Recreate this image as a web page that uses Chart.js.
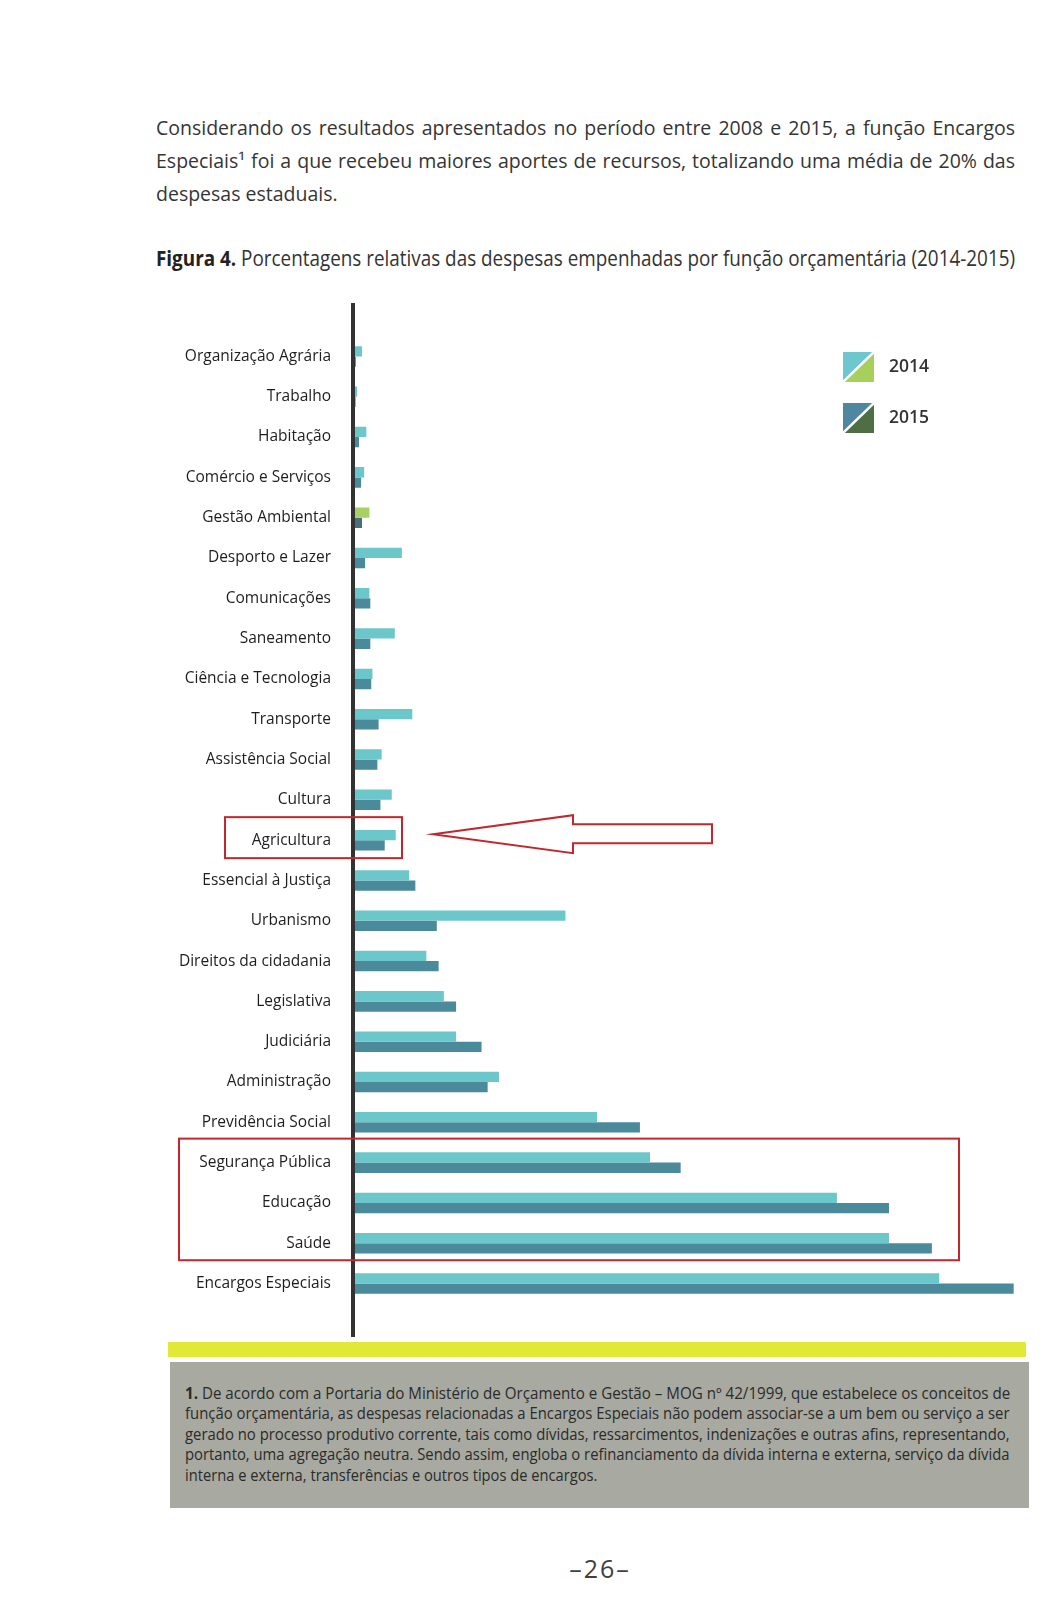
<!DOCTYPE html>
<html>
<head>
<meta charset="utf-8">
<script src="https://cdn.jsdelivr.net/npm/chart.js@4"></script>
<style>
  body { margin: 0; background: #fff; font-family: "Open Sans", "Noto Sans", sans-serif; }
  #page { position: relative; width: 1045px; height: 1600px; overflow: hidden; }
  .intro { position: absolute; left: 156px; top: 111px; width: 859px; font-size: 19.5px; line-height: 33px; color: #353535; }
  .intro div { text-align: justify; text-align-last: justify; white-space: nowrap; }
  .intro div.last { text-align-last: left; }
  .fit { white-space: nowrap; transform-origin: 0 50%; display: inline-block; }
  .caption { position: absolute; left: 156px; top: 244px; font-size: 21px; line-height: 28px; color: #333; }
  .caption b { color: #222; }
  #wrap { position: absolute; left: 0; top: 303px; width: 1045px; height: 1034px; }
  .legend { position: absolute; left: 843px; font-size: 17.5px; color: #333; font-weight: 600; }
  .legend canvas { vertical-align: middle; margin-right: 15px; }
  .band { position: absolute; left: 168px; top: 1342px; width: 858px; height: 15px; background: #dfe936; }
  .note { position: absolute; left: 170px; top: 1362px; width: 859px; height: 146px; background: #a8a9a0; }
  .note .txt { position: absolute; left: 15px; top: 21px; font-size: 15.5px; line-height: 20.4px; color: #2a2b2b; }
  .note .txt div { height: 20.4px; }
  .pnum { position: absolute; left: 530px; top: 1551px; width: 140px; text-align: center; font-size: 25px; letter-spacing: 2px; color: #404040; }
</style>
</head>
<body>
<div id="page">
  <div class="intro">
    <div>Considerando os resultados apresentados no período entre 2008 e 2015, a função Encargos</div>
    <div>Especiais¹ foi a que recebeu maiores aportes de recursos, totalizando uma média de 20% das</div>
    <div class="last">despesas estaduais.</div>
  </div>
  <div class="caption"><span class="fit" data-w="859"><b>Figura 4.</b> Porcentagens relativas das despesas empenhadas por função orçamentária (2014-2015)</span></div>

  <div id="wrap"><canvas id="chart"></canvas></div>

  <div class="legend" style="top:352px"><canvas id="sw14" width="31" height="30"></canvas>2014</div>
  <div class="legend" style="top:403px"><canvas id="sw15" width="31" height="30"></canvas>2015</div>

  <div class="band"></div>
  <div class="note">
    <div class="txt">
      <div><span class="fit" data-w="825"><b>1.</b> De acordo com a Portaria do Ministério de Orçamento e Gestão – MOG nº 42/1999, que estabelece os conceitos de</span></div>
      <div><span class="fit" data-w="825">função orçamentária, as despesas relacionadas a Encargos Especiais não podem associar-se a um bem ou serviço a ser</span></div>
      <div><span class="fit" data-w="825">gerado no processo produtivo corrente, tais como dívidas, ressarcimentos, indenizações e outras afins, representando,</span></div>
      <div><span class="fit" data-w="825">portanto, uma agregação neutra. Sendo assim, engloba o refinanciamento da dívida interna e externa, serviço da dívida</span></div>
      <div><span class="fit" data-w="412">interna e externa, transferências e outros tipos de encargos.</span></div>
    </div>
  </div>
  <div class="pnum">–26–</div>
</div>

<script>
// funções orçamentárias, de cima para baixo
const categories = [
  'Organização Agrária', 'Trabalho', 'Habitação', 'Comércio e Serviços', 'Gestão Ambiental',
  'Desporto e Lazer', 'Comunicações', 'Saneamento', 'Ciência e Tecnologia', 'Transporte',
  'Assistência Social', 'Cultura', 'Agricultura', 'Essencial à Justiça', 'Urbanismo',
  'Direitos da cidadania', 'Legislativa', 'Judiciária', 'Administração', 'Previdência Social',
  'Segurança Pública', 'Educação', 'Saúde', 'Encargos Especiais'
];

// % estimado a partir do comprimento das barras
const values2014 = [0.23, 0.07, 0.37, 0.30, 0.47, 1.53, 0.47, 1.30, 0.57, 1.87,
  0.87, 1.20, 1.33, 1.77, 6.87, 2.33, 2.90, 3.30, 4.70, 7.90, 9.63, 15.73, 17.43, 19.07];
const values2015 = [0.03, 0.02, 0.13, 0.20, 0.23, 0.33, 0.50, 0.50, 0.53, 0.77,
  0.73, 0.83, 0.97, 1.97, 2.67, 2.73, 3.30, 4.13, 4.33, 9.30, 10.63, 17.43, 18.83, 21.50];

const years = ['2014', '2015'];

const cyan = '#6cc7cb';
const teal = '#4a8a9b';
const green = '#a8d067';
const darkTeal = '#4c6d7a';

// squeeze condensed-looking lines to their width
document.querySelectorAll('.fit').forEach(el => {
  const w = +el.dataset.w;
  el.style.transform = 'scaleX(' + (w / el.offsetWidth) + ')';
});

// legend swatches: two triangles split by a white diagonal
function swatch(id, c1, c2) {
  const c = document.getElementById(id).getContext('2d');
  c.fillStyle = c1;
  c.beginPath(); c.moveTo(0, 0); c.lineTo(31, 0); c.lineTo(0, 30); c.fill();
  c.fillStyle = c2;
  c.beginPath(); c.moveTo(31, 0); c.lineTo(31, 30); c.lineTo(0, 30); c.fill();
  c.strokeStyle = '#fff'; c.lineWidth = 2.5;
  c.beginPath(); c.moveTo(32, -1); c.lineTo(-1, 31); c.stroke();
}
swatch('sw14', '#6ec6cf', '#a6cf5c');
swatch('sw15', '#4f87a0', '#4f6e45');

const axisAndNotes = {
  id: 'axisAndNotes',
  afterDraw(chart) {
    const ctx = chart.ctx;
    const x0 = chart.scales.x.getPixelForValue(0);
    const y = chart.scales.y;
    ctx.save();
    // vertical axis line
    ctx.fillStyle = '#333';
    ctx.fillRect(x0 - 4, 0, 4, chart.height);

    ctx.strokeStyle = '#c1272d';
    ctx.lineWidth = 2;
    const agr = y.getPixelForValue(categories.indexOf('Agricultura'));
    ctx.strokeRect(225, agr - 23, 177, 41);

    // arrow pointing to Agricultura
    ctx.beginPath();
    ctx.moveTo(433, agr - 6);
    ctx.lineTo(573, agr - 25);
    ctx.lineTo(573, agr - 16);
    ctx.lineTo(712, agr - 16);
    ctx.lineTo(712, agr + 3);
    ctx.lineTo(573, agr + 3);
    ctx.lineTo(573, agr + 13);
    ctx.closePath();
    ctx.stroke();

    const seg = y.getPixelForValue(categories.indexOf('Segurança Pública'));
    const sau = y.getPixelForValue(categories.indexOf('Saúde'));
    ctx.strokeRect(179, seg - 24, 780, sau - seg + 41);
    ctx.restore();
  }
};

new Chart(document.getElementById('chart'), {
  type: 'bar',
  data: {
    labels: categories,
    datasets: [
      {
        label: years[0],
        data: values2014,
        backgroundColor: categories.map(c => c === 'Gestão Ambiental' ? green : cyan)
      },
      {
        label: years[1],
        data: values2015,
        backgroundColor: categories.map(c => c === 'Gestão Ambiental' ? darkTeal : teal)
      }
    ]
  },
  options: {
    indexAxis: 'y',
    responsive: true,
    maintainAspectRatio: false,
    animation: false,
    datasets: {
      bar: { categoryPercentage: 0.51, barPercentage: 1, borderWidth: 0 }
    },
    layout: { padding: { top: 29, bottom: 33, left: 0, right: 16 } },
    plugins: {
      legend: { display: false },
      tooltip: { enabled: false }
    },
    scales: {
      x: {
        display: false,
        min: 0,
        max: 22
      },
      y: {
        grid: { display: false, drawTicks: false },
        border: { display: false },
        ticks: {
          color: '#1e1e1e',
          padding: 24,
          font: { family: 'Open Sans', size: 15.5 }
        },
        afterFit(scale) { scale.width = 355; }
      }
    }
  },
  plugins: [axisAndNotes]
});
</script>
</body>
</html>
